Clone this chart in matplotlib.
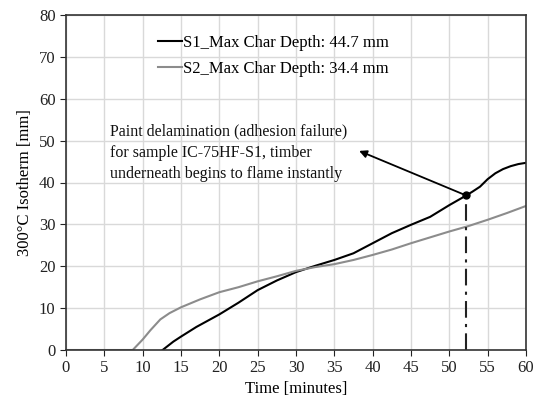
import matplotlib.pyplot as plt

plt.rcParams['font.family'] = ['Liberation Serif', 'DejaVu Serif']

# S1 - black curve, S2 - grey curve
s1_time = [12.6, 14, 15, 17, 20, 22.5, 25, 27.5, 30, 32.5, 35, 37.5, 40, 42.5,
           45, 47.5, 50, 52.2, 53, 54, 55, 56, 57, 58, 59, 60]
s1_depth = [0, 2.0, 3.2, 5.5, 8.5, 11.3, 14.3, 16.6, 18.6, 20.1, 21.5, 23.1, 25.5, 27.9,
            29.9, 31.8, 34.6, 36.9, 37.8, 39.0, 40.8, 42.2, 43.2, 43.9, 44.4, 44.7]
s2_time = [0, 8.7, 10, 11, 12.3, 13.5, 15, 17.5, 20, 22.5, 25, 27.5, 30, 32.5,
           35, 37.5, 40, 42.5, 45, 47.5, 50, 52.5, 55, 57.5, 60]
s2_depth = [0, 0, 2.5, 4.7, 7.3, 8.8, 10.2, 12.1, 13.8, 15.0, 16.4, 17.6, 18.9, 19.8,
            20.5, 21.5, 22.7, 24.0, 25.5, 26.9, 28.3, 29.6, 31.1, 32.7, 34.4]
s1_label = 'S1_Max Char Depth: 44.7 mm'
s2_label = 'S2_Max Char Depth: 34.4 mm'

fail_time = 52.2
fail_depth = 36.9
note = ('Paint delamination (adhesion failure)\n'
        'for sample IC-75HF-S1, timber\n'
        'underneath begins to flame instantly')
note_xy = (5.7, 54.0)
arrow_tip = (37.9, 47.8)

fig = plt.figure(figsize=(5.38, 4.0), dpi=100)
ax = fig.add_axes([66 / 538, 50 / 400, 460 / 538, 335 / 400])

ax.plot(s1_time, s1_depth, color='black', lw=1.5, label=s1_label)
ax.plot(s2_time, s2_depth, color='#8c8c8c', lw=1.5, label=s2_label)

ax.plot([fail_time, fail_time], [0, fail_depth], color='#222222', lw=1.5,
        dashes=(8, 3, 1.5, 3))
ax.plot([fail_time], [fail_depth], 'o', color='black', ms=5)
ax.annotate('', xy=arrow_tip, xytext=(fail_time, fail_depth),
            arrowprops=dict(arrowstyle='-|>', color='black', lw=1.3, mutation_scale=11))
ax.text(note_xy[0], note_xy[1], note, fontsize=11.5, va='top', ha='left',
        linespacing=1.42, color='#111111')

ax.set_xlim(0, 60)
ax.set_ylim(0, 80)
ax.set_xticks(range(0, 61, 5))
ax.set_yticks(range(0, 81, 10))
ax.grid(True, color='#d9d9d9', lw=1)
ax.set_axisbelow(True)
ax.tick_params(labelsize=12, length=4, direction='out', colors='#222222')
for s in ax.spines.values():
    s.set_color('#333333')
    s.set_linewidth(1.2)

ax.set_xlabel('Time [minutes]', fontsize=12, labelpad=3)
ax.set_ylabel('300°C Isotherm [mm]', fontsize=12)

ax.legend(loc='upper left', bbox_to_anchor=(0.2, 0.94), frameon=False,
          fontsize=12, borderpad=0, borderaxespad=0, handlelength=1.45,
          handletextpad=0.05, labelspacing=0.6)

plt.savefig('out.png', dpi=100)
plt.close()
